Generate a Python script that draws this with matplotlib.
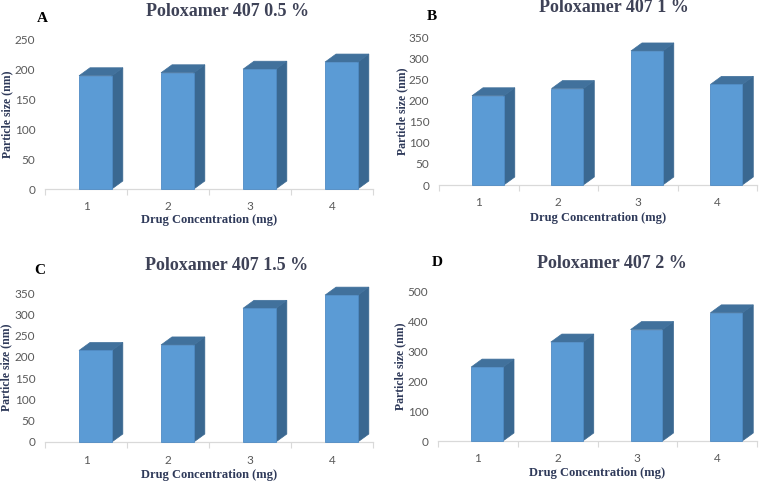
import numpy as np
import matplotlib.pyplot as plt
from matplotlib.patches import Polygon, Rectangle

####################

conc = [1, 2, 3, 4]

sizeA = [190, 195, 201, 213]
sizeB = [211, 228, 317, 238]
sizeC = [215, 228, 314, 345]
sizeD = [248, 332, 374, 430]

titles = ['Poloxamer 407 0.5 %', 'Poloxamer 407 1 %', 'Poloxamer 407 1.5 %', 'Poloxamer 407 2 %']
letters = ['A', 'B', 'C', 'D']
ymaxs = [250, 350, 350, 500]
ysteps = [50, 50, 50, 100]

W, H = 771, 483

front = '#5b9bd5'
side = '#3a6891'
top = '#41719c'
navy = '#2f3a5a'
titleCol = '#3e4257'
tickCol = '#595959'
serif = 'Liberation Serif'
sans = 'Lato'

# axes boxes in pixels: left, top, right, bottom
boxes = [(45, 40, 373, 189), (439, 37, 757, 185), (45, 293, 373, 442), (438, 292, 757, 441)]
titlePos = [(228, 11), (614, 7), (227, 265), (612, 263)]
letterPos = [(42, 18), (432, 17), (40, 270), (437, 263)]
ylabX = [7, 402, 6, 400]      # pixel x of y label centre
xlabY = [220, 218, 475, 473]  # pixel y of x label centre

####################

def fx(x):
    return x / W

def fy(y):
    return 1 - y / H


fig = plt.figure(figsize=(W / 100, H / 100), dpi=100)

data = [sizeA, sizeB, sizeC, sizeD]

for k in range(4):
    l, t, r, b = boxes[k]
    ax = fig.add_axes([fx(l), fy(b), fx(r - l), (b - t) / H])
    vals = data[k]
    ymax = ymaxs[k]

    pxPerX = (r - l) / 4.0
    pxPerY = (b - t) / ymax
    dx = 11 / pxPerX
    dy = 8 / pxPerY
    w = 0.4

    for x, v in zip(conc, vals):
        x0 = x - 0.085
        x1 = x0 + w
        ax.add_patch(Polygon([(x1, 0), (x1 + dx, dy), (x1 + dx, v + dy), (x1, v)],
                             closed=True, facecolor=side, edgecolor=side, lw=0.5, clip_on=False, zorder=2))
        ax.add_patch(Polygon([(x0, v), (x1, v), (x1 + dx, v + dy), (x0 + dx, v + dy)],
                             closed=True, facecolor=top, edgecolor=top, lw=0.5, clip_on=False, zorder=2))
        ax.add_patch(Rectangle((x0, 0), w, v, facecolor=front, edgecolor='#4f8bc4', lw=0.6,
                               clip_on=False, zorder=3))

    ax.set_xlim(0.5, 4.5)
    ax.set_ylim(0, ymax)
    ax.set_xticks(conc)
    ax.set_xticks([0.5, 1.5, 2.5, 3.5, 4.5], minor=True)
    ax.set_yticks(np.arange(0, ymax + 1, ysteps[k]))
    ax.tick_params(axis='x', which='major', length=0, pad=9, labelsize=8.5, labelcolor=tickCol)
    ax.tick_params(axis='x', which='minor', length=4, color='#d9d9d9', width=0.8)
    ax.tick_params(axis='y', length=0, pad=7, labelsize=8.5, labelcolor=tickCol)
    for lab in ax.get_xticklabels() + ax.get_yticklabels():
        lab.set_family(sans)

    for s in ['top', 'right', 'left']:
        ax.spines[s].set_visible(False)
    ax.spines['bottom'].set_color('#d9d9d9')
    ax.spines['bottom'].set_linewidth(0.9)

    ax.set_xlabel('Drug Concentration (mg)', family=serif, weight='bold', fontsize=9,
                  color=navy, va='center')
    ax.set_ylabel('Particle size (nm)', family=serif, weight='bold', fontsize=8.5,
                  color=navy, va='center')
    ax.yaxis.set_label_coords((ylabX[k] - l) / (r - l), 0.5)
    ax.xaxis.set_label_coords(0.5, -(xlabY[k] - b) / (b - t))

    tx, ty = titlePos[k]
    fig.text(fx(tx), fy(ty), titles[k], family=serif, weight='bold', fontsize=13,
             color=titleCol, ha='center', va='center')
    lx, ly = letterPos[k]
    fig.text(fx(lx), fy(ly), letters[k], family=serif, weight='bold', fontsize=11,
             color='black', ha='center', va='center')

plt.savefig('out.png', dpi=100)
